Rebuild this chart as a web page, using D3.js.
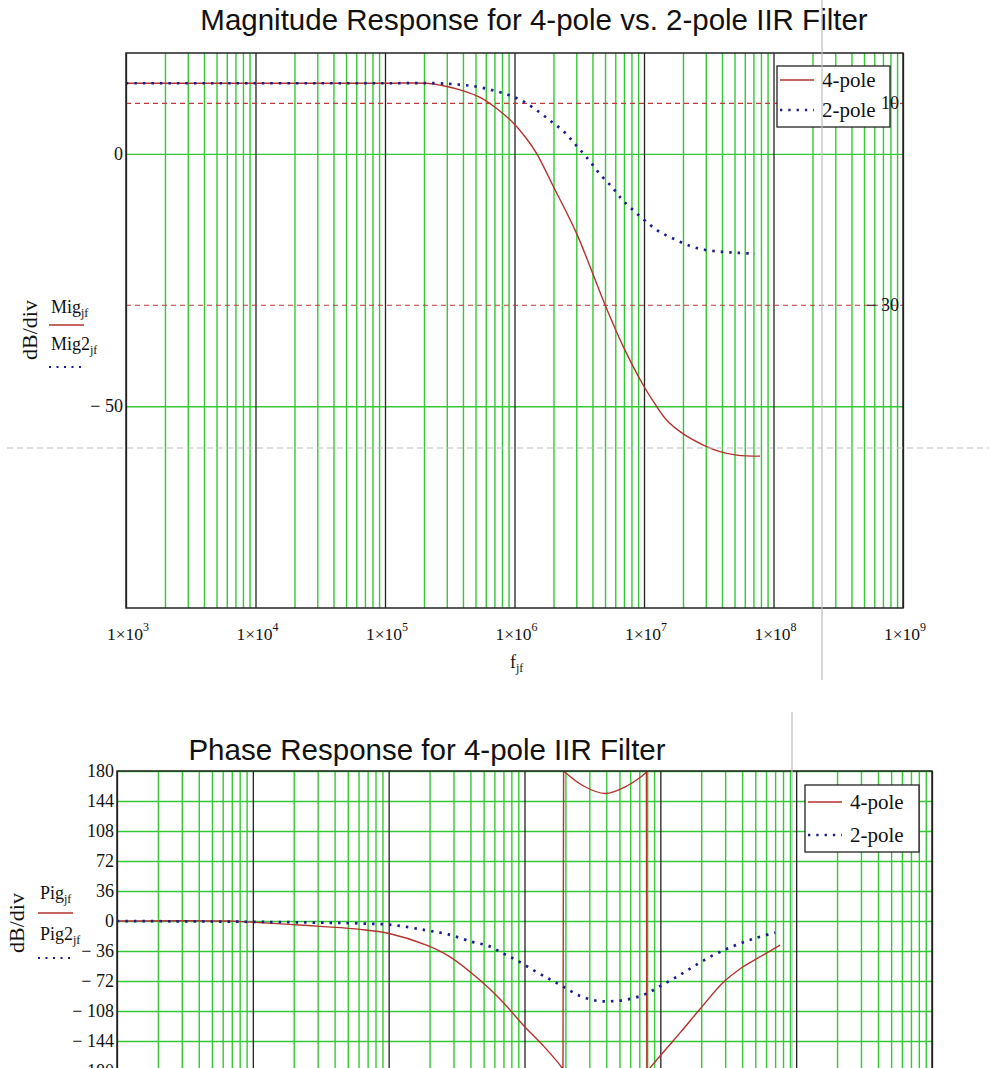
<!DOCTYPE html>
<html><head><meta charset="utf-8">
<script src="https://cdn.jsdelivr.net/npm/d3@7/dist/d3.min.js"></script>
<style>
body{margin:0;background:#fff;}
svg{display:block;}
.serif{font-family:"Liberation Serif","Times New Roman",serif;}
.sans{font-family:"Liberation Sans",Arial,sans-serif;}
</style></head>
<body>
<svg id="c" width="989" height="1068"></svg>
<script>
// ---------- data ----------
const freqTicks = [1e3, 1e4, 1e5, 1e6, 1e7, 1e8, 1e9];
const freqTickExp = ["3", "4", "5", "6", "7", "8", "9"];
const magTicks = [0, -50];
const magTickLabels = ["0", "− 50"];
const magMarkers = [10, -30];
const magMarkerLabels = ["10", "− 30"];
const phaseTicks = [180, 144, 108, 72, 36, 0, -36, -72, -108, -144, -180];
const phaseTickLabels = ["180", "144", "108", "72", "36", "0", "− 36", "− 72", "− 108", "− 144", "− 180"];
const seriesNames = ["4-pole", "2-pole"];

const mag4Freq = [1e3, 1e4, 1e5, 2.1e5, 2.82e5, 4.03e5, 5.42e5, 7.28e5, 1e6, 1.24e6, 1.48e6, 2.0e6, 3.02e6, 5.0e6, 6.92e6, 1e7, 1.22e7, 1.5e7, 2.01e7, 2.87e7, 3.86e7, 5.2e7, 7.87e7];
const mag4Db   = [14, 14, 14, 14, 13.5, 12.5, 11.2, 9.0, 5.9, 3.0, 0.1, -6.5, -15.8, -29.9, -38.2, -46.1, -49.6, -52.8, -55.5, -57.7, -59.0, -59.7, -59.9];

const mag2Freq = [1e3, 1e4, 1e5, 2.5e5, 3.87e5, 5.2e5, 7.03e5, 9.23e5, 1.19e6, 1.57e6, 1.97e6, 2.41e6, 2.97e6, 3.72e6, 4.57e6, 5.73e6, 6.81e6, 8.38e6, 1.035e7, 1.31e7, 1.66e7, 2.24e7, 2.93e7, 3.98e7, 5.25e7, 7.2e7];
const mag2Db   = [14, 14, 14, 14, 13.7, 13.3, 12.5, 11.6, 10.3, 8.2, 6.2, 4.4, 1.8, -1.1, -4.0, -6.7, -9.1, -11.3, -13.4, -15.4, -16.7, -18.2, -19.0, -19.4, -19.6, -19.8];

const phase4Freq = [1e3, 6.3e3, 1e4, 1.86e4, 3.16e4, 6.17e4, 1.01e5, 1.9e5, 2.83e5, 4.71e5, 6.6e5, 9.8e5, 1.38e6, 1.88e6, 1.92e6, 1.94e6, 2.72e6, 3.92e6, 5.66e6, 7.8e6, 7.9e6, 7.95e6, 8.41e6, 9.95e6, 1.4e7, 1.96e7, 2.92e7, 3.87e7, 5.14e7, 7.62e7];
const phase4Deg  = [0, 0, -1.5, -4, -6.5, -10, -15, -29, -43, -71, -93.5, -125, -150, -176, -180, 180, 162, 153, 162, 178, 180, -180, -176, -162, -134, -105.6, -73.3, -57.3, -45.2, -29];

const phase2Freq = [1e3, 1e4, 3.2e4, 6.15e4, 1.08e5, 1.85e5, 2.75e5, 4.1e5, 5.42e5, 7e5, 8.77e5, 1.16e6, 1.54e6, 1.94e6, 2.57e6, 3.5e6, 4.64e6, 6.17e6, 7.94e6, 1e7, 1.32e7, 1.74e7, 2.45e7, 3.47e7, 4.9e7, 7.0e7];
const phase2Deg  = [0, -1, -2, -2.9, -4.9, -10.9, -16.1, -25, -29.8, -39.1, -47.1, -59, -70, -79, -90, -96, -96, -93, -87, -78, -67, -55, -41, -30, -21, -14];

// ---------- styles ----------
const GREEN = "#35c835", RED = "#b3322c", BLUE = "#1c1c8c", GRAY = "#bdbdbd";

const svg = d3.select("#c");

function drawChart(cfg) {
  const g = svg.append("g");
  const x = d3.scaleLog().domain([1e3, 1e9]).range([cfg.left, cfg.right]);
  const y = d3.scaleLinear().domain(cfg.yDomain).range([cfg.bottom, cfg.top]);
  const h = cfg.bottom - cfg.top, w = cfg.right - cfg.left;

  const minor = [];
  for (let e = 3; e < 9; e++) for (let m = 2; m <= 9; m++) minor.push(m * Math.pow(10, e));
  const gx = g.append("g").attr("transform", `translate(0,${cfg.bottom})`)
    .call(d3.axisBottom(x).tickValues(minor).tickSize(-h).tickFormat(""));
  gx.select(".domain").remove();
  gx.selectAll("line").attr("stroke", GREEN).attr("stroke-width", 1.4);

  const gy = g.append("g").attr("transform", `translate(${cfg.left},0)`)
    .call(d3.axisLeft(y).tickValues(cfg.yTicks).tickSize(-w).tickFormat(""));
  gy.select(".domain").remove();
  gy.selectAll("line").attr("stroke", GREEN).attr("stroke-width", 1.4);

  const gd = g.append("g").attr("transform", `translate(0,${cfg.bottom})`)
    .call(d3.axisBottom(x).tickValues(freqTicks).tickSize(-h).tickFormat(""));
  gd.select(".domain").remove();
  gd.selectAll("line").attr("stroke", "#222").attr("stroke-width", 1.3);

  if (cfg.markers) {
    cfg.markers.forEach(v => {
      g.append("line").attr("x1", cfg.left).attr("x2", cfg.right)
        .attr("y1", y(v)).attr("y2", y(v))
        .attr("stroke", "#c0393a").attr("stroke-width", 1.2).attr("stroke-dasharray", "5,4");
    });
  }

  // series: split at phase wraps, smooth runs, straight connectors at wraps
  const smooth = d3.line().x(d => x(d[0])).y(d => y(d[1])).curve(d3.curveCatmullRom.alpha(0.5));
  const straight = d3.line().x(d => x(d[0])).y(d => y(d[1]));
  function seriesPath(fs, vs) {
    const pts = fs.map((f, i) => [f, vs[i]]);
    const runs = [[pts[0]]];
    const jumps = [];
    for (let i = 1; i < pts.length; i++) {
      if (Math.abs(pts[i][1] - pts[i - 1][1]) > 180) { jumps.push([pts[i - 1], pts[i]]); runs.push([]); }
      runs[runs.length - 1].push(pts[i]);
    }
    let d = "";
    runs.forEach(r => { if (r.length > 1) d += smooth(r); });
    jumps.forEach(j => { d += straight(j); });
    return d;
  }
  const clip = "clip" + cfg.id;
  svg.append("clipPath").attr("id", clip).append("rect")
    .attr("x", cfg.left).attr("y", cfg.top - 1).attr("width", w).attr("height", h + 2);
  const gc = g.append("g").attr("clip-path", `url(#${clip})`);
  gc.append("path").attr("d", seriesPath(cfg.f4, cfg.v4)).attr("fill", "none")
    .attr("stroke", RED).attr("stroke-width", 1.4);
  gc.append("path").attr("d", seriesPath(cfg.f2, cfg.v2)).attr("fill", "none")
    .attr("stroke", BLUE).attr("stroke-width", 2.7).attr("stroke-dasharray", "2.5,6");

  g.append("rect").attr("x", cfg.left).attr("y", cfg.top).attr("width", w).attr("height", h)
    .attr("fill", "none").attr("stroke", "#222").attr("stroke-width", 1.5);

  cfg.yTicks.forEach((v, i) => {
    g.append("text").attr("class", "serif").attr("x", cfg.left - 3).attr("y", y(v) + 6)
      .attr("text-anchor", "end").attr("font-size", cfg.yFont).attr("fill", "#111")
      .text(cfg.yTickLabels[i]);
  });

  const L = cfg.legend;
  g.append("rect").attr("x", L.x).attr("y", L.y).attr("width", L.w).attr("height", L.h)
    .attr("fill", "#fff").attr("stroke", "#222").attr("stroke-width", 1.3);
  seriesNames.forEach((name, i) => {
    const ly = L.y + L.row0 + i * L.step;
    g.append("line").attr("x1", L.x + 3).attr("x2", L.x + 37).attr("y1", ly).attr("y2", ly)
      .attr("stroke", i === 0 ? RED : BLUE).attr("stroke-width", i === 0 ? 1.4 : 2.5)
      .attr("stroke-dasharray", i === 0 ? null : "2.3,6");
    g.append("text").attr("class", "serif").attr("x", L.x + 45).attr("y", ly + 7)
      .attr("font-size", 21).attr("fill", "#111").text(name);
  });

  if (cfg.markers) {
    cfg.markers.forEach((v, i) => {
      g.append("text").attr("class", "serif").attr("x", cfg.right - 4).attr("y", y(v) + 6)
        .attr("text-anchor", "end").attr("font-size", 18).attr("fill", "#111")
        .text(cfg.markerLabels[i]);
    });
  }

  g.append("text").attr("class", "sans").attr("x", cfg.titleX).attr("y", cfg.titleY)
    .attr("text-anchor", "middle").attr("font-size", 29.5).attr("fill", "#111").text(cfg.title);

  g.append("text").attr("class", "serif").attr("font-size", 22).attr("fill", "#111")
    .attr("text-anchor", "middle")
    .attr("transform", `translate(${cfg.dbX},${cfg.dbY}) rotate(-90)`).text("dB/div");
  cfg.names.forEach((nm, i) => {
    const ty = cfg.nameY[i];
    const t = g.append("text").attr("class", "serif").attr("x", cfg.nameX).attr("y", ty)
      .attr("font-size", 18).attr("fill", "#111");
    t.append("tspan").text(nm);
    t.append("tspan").attr("font-size", 12).attr("dy", 4).text("jf");
    const ly = cfg.nameLineY[i];
    g.append("line").attr("x1", cfg.nameX - 2).attr("x2", cfg.nameX + 33)
      .attr("y1", ly).attr("y2", ly)
      .attr("stroke", i === 0 ? RED : BLUE).attr("stroke-width", i === 0 ? 1.4 : 2.2)
      .attr("stroke-dasharray", i === 0 ? null : "2,5.5");
  });

  return { g, x, y };
}

// ---------- top chart ----------
const magChart = drawChart({
  id: "m", left: 126, right: 903, top: 53, bottom: 608, yDomain: [-90, 20],
  yTicks: magTicks, yTickLabels: magTickLabels, yFont: 18,
  markers: magMarkers, markerLabels: magMarkerLabels,
  f4: mag4Freq, v4: mag4Db, f2: mag2Freq, v2: mag2Db,
  legend: { x: 777, y: 66, w: 113, h: 61, row0: 14, step: 30 },
  title: "Magnitude Response for 4-pole vs. 2-pole IIR Filter", titleX: 534, titleY: 30,
  dbX: 37, dbY: 330, names: ["Mig", "Mig2"], nameX: 51, nameY: [313, 350], nameLineY: [325, 367]
});
freqTicks.forEach((f, i) => {
  const t = magChart.g.append("text").attr("class", "serif").attr("x", magChart.x(f) + 2).attr("y", 640)
    .attr("text-anchor", "middle").attr("font-size", 17.5).attr("fill", "#111");
  t.append("tspan").text("1×10");
  t.append("tspan").attr("font-size", 12).attr("dy", -9).text(freqTickExp[i]);
});
{
  const t = magChart.g.append("text").attr("class", "serif").attr("x", 510).attr("y", 668)
    .attr("font-size", 18).attr("fill", "#111");
  t.append("tspan").text("f");
  t.append("tspan").attr("font-size", 12).attr("dy", 4).text("jf");
}

// ---------- bottom chart ----------
drawChart({
  id: "p", left: 117, right: 932, top: 771, bottom: 1071, yDomain: [-180, 180],
  yTicks: phaseTicks, yTickLabels: phaseTickLabels, yFont: 18,
  markers: null,
  f4: phase4Freq, v4: phase4Deg, f2: phase2Freq, v2: phase2Deg,
  legend: { x: 805, y: 785, w: 114, h: 67, row0: 17, step: 33 },
  title: "Phase Response for 4-pole IIR Filter", titleX: 427, titleY: 760,
  dbX: 24, dbY: 923, names: ["Pig", "Pig2"], nameX: 40, nameY: [899, 940], nameLineY: [913, 958]
});

// ---------- cursor artifacts ----------
svg.append("line").attr("x1", 7).attr("x2", 989).attr("y1", 448).attr("y2", 448)
  .attr("stroke", GRAY).attr("stroke-width", 1.2).attr("stroke-dasharray", "6,4");
svg.append("line").attr("x1", 822).attr("x2", 822).attr("y1", 0).attr("y2", 680)
  .attr("stroke", GRAY).attr("stroke-width", 1.2);
svg.append("line").attr("x1", 792).attr("x2", 792).attr("y1", 712).attr("y2", 1068)
  .attr("stroke", GRAY).attr("stroke-width", 1.2);
</script>
</body></html>
